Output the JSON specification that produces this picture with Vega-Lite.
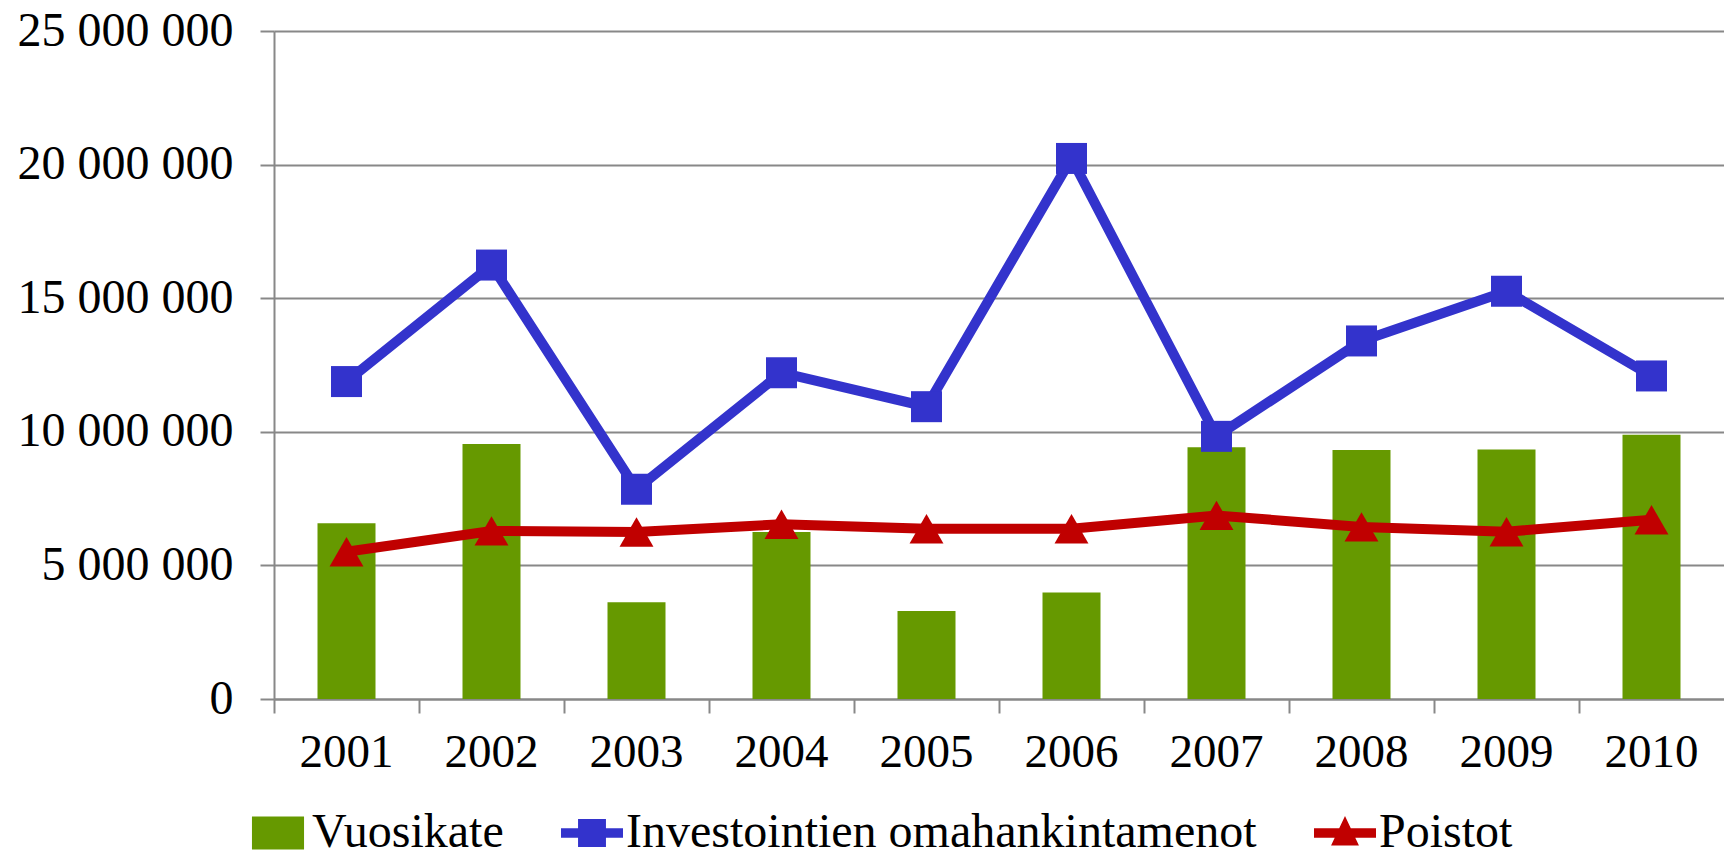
{
  "$schema": "https://vega.github.io/schema/vega-lite/v6.json",
  "width": 1450,
  "height": 668,
  "autosize": {"type": "none"},
  "padding": {"left": 274, "top": 31, "right": 0, "bottom": 154},
  "background": "white",
  "data": {
    "values": [
      {"year": "2001", "series": "Vuosikate", "value": 6580000},
      {"year": "2002", "series": "Vuosikate", "value": 9540000},
      {"year": "2003", "series": "Vuosikate", "value": 3620000},
      {"year": "2004", "series": "Vuosikate", "value": 6250000},
      {"year": "2005", "series": "Vuosikate", "value": 3290000},
      {"year": "2006", "series": "Vuosikate", "value": 3990000},
      {"year": "2007", "series": "Vuosikate", "value": 9420000},
      {"year": "2008", "series": "Vuosikate", "value": 9320000},
      {"year": "2009", "series": "Vuosikate", "value": 9340000},
      {"year": "2010", "series": "Vuosikate", "value": 9890000},
      {"year": "2001", "series": "Investointien omahankintamenot", "value": 11880000},
      {"year": "2002", "series": "Investointien omahankintamenot", "value": 16240000},
      {"year": "2003", "series": "Investointien omahankintamenot", "value": 7850000},
      {"year": "2004", "series": "Investointien omahankintamenot", "value": 12210000},
      {"year": "2005", "series": "Investointien omahankintamenot", "value": 10940000},
      {"year": "2006", "series": "Investointien omahankintamenot", "value": 20230000},
      {"year": "2007", "series": "Investointien omahankintamenot", "value": 9830000},
      {"year": "2008", "series": "Investointien omahankintamenot", "value": 13400000},
      {"year": "2009", "series": "Investointien omahankintamenot", "value": 15260000},
      {"year": "2010", "series": "Investointien omahankintamenot", "value": 12090000},
      {"year": "2001", "series": "Poistot", "value": 5510000},
      {"year": "2002", "series": "Poistot", "value": 6290000},
      {"year": "2003", "series": "Poistot", "value": 6250000},
      {"year": "2004", "series": "Poistot", "value": 6540000},
      {"year": "2005", "series": "Poistot", "value": 6370000},
      {"year": "2006", "series": "Poistot", "value": 6370000},
      {"year": "2007", "series": "Poistot", "value": 6870000},
      {"year": "2008", "series": "Poistot", "value": 6440000},
      {"year": "2009", "series": "Poistot", "value": 6260000},
      {"year": "2010", "series": "Poistot", "value": 6710000}
    ]
  },
  "encoding": {
    "x": {
      "field": "year",
      "type": "ordinal",
      "title": null,
      "scale": {"paddingInner": 0, "paddingOuter": 0},
      "axis": {
        "bandPosition": 0,
        "labelAngle": 0,
        "labelFont": "Liberation Serif",
        "labelFontSize": 47,
        "labelColor": "black",
        "labelPadding": 16,
        "labelBaseline": "top",
        "labelLimit": 0,
        "domainColor": "#888888",
        "domainWidth": 2,
        "tickColor": "#888888",
        "tickWidth": 2,
        "tickSize": 14,
        "grid": false
      }
    },
    "y": {
      "field": "value",
      "type": "quantitative",
      "title": null,
      "scale": {"domain": [0, 25000000], "nice": false},
      "axis": {
        "values": [0, 5000000, 10000000, 15000000, 20000000, 25000000],
        "labelExpr": "replace(replace(format(datum.value, ','), ',', ' '), ',', ' ')",
        "labelFont": "Liberation Serif",
        "labelFontSize": 48,
        "labelColor": "black",
        "labelPadding": 27,
        "labelBaseline": "middle",
        "labelLimit": 0,
        "domainColor": "#888888",
        "domainWidth": 2,
        "tickColor": "#888888",
        "tickWidth": 2,
        "tickSize": 14,
        "grid": true,
        "gridColor": "#888888",
        "gridWidth": 2
      }
    },
    "color": {
      "field": "series",
      "type": "nominal",
      "scale": {
        "domain": ["Vuosikate", "Investointien omahankintamenot", "Poistot"],
        "range": ["#669900", "#3333CC", "#C00000"]
      },
      "legend": {
        "orient": "none",
        "direction": "horizontal",
        "legendX": -27,
        "legendY": 771,
        "title": null,
        "labelFont": "Liberation Serif",
        "labelFontSize": 48,
        "labelColor": "black",
        "labelOffset": 3,
        "labelLimit": 0,
        "columnPadding": 57,
        "symbolSize": 3844,
        "symbolStrokeWidth": 0,
        "encode": {
          "symbols": {
            "update": {
              "shape": {"signal": "datum.value == 'Vuosikate' ? 'M-0.84,-0.53H0.84V0.53H-0.84Z' : datum.value == 'Poistot' ? 'M-1,-0.15H1V0.15H-1Z M0,-0.55L0.45,0.4H-0.45Z' : 'M-1,-0.15H1V0.15H-1Z M-0.45,-0.45H0.45V0.45H-0.45Z'"},
              "fill": {"scale": "color", "field": "value"},
              "fillOpacity": {"value": 1},
              "strokeWidth": {"value": 0},
              "opacity": {"value": 1}
            }
          }
        }
      }
    }
  },
  "layer": [
    {
      "transform": [{"filter": "datum.series == 'Vuosikate'"}],
      "mark": {"type": "bar", "size": 58}
    },
    {
      "transform": [{"filter": "datum.series == 'Investointien omahankintamenot'"}],
      "mark": {"type": "line", "strokeWidth": 10, "point": {"shape": "square", "size": 961, "filled": true, "opacity": 1}}
    },
    {
      "transform": [{"filter": "datum.series == 'Poistot'"}],
      "mark": {"type": "line", "strokeWidth": 10, "point": {"shape": "triangle-up", "size": 1150, "filled": true, "opacity": 1}}
    }
  ],
  "config": {
    "view": {"stroke": null},
    "font": "Liberation Serif"
  }
}
